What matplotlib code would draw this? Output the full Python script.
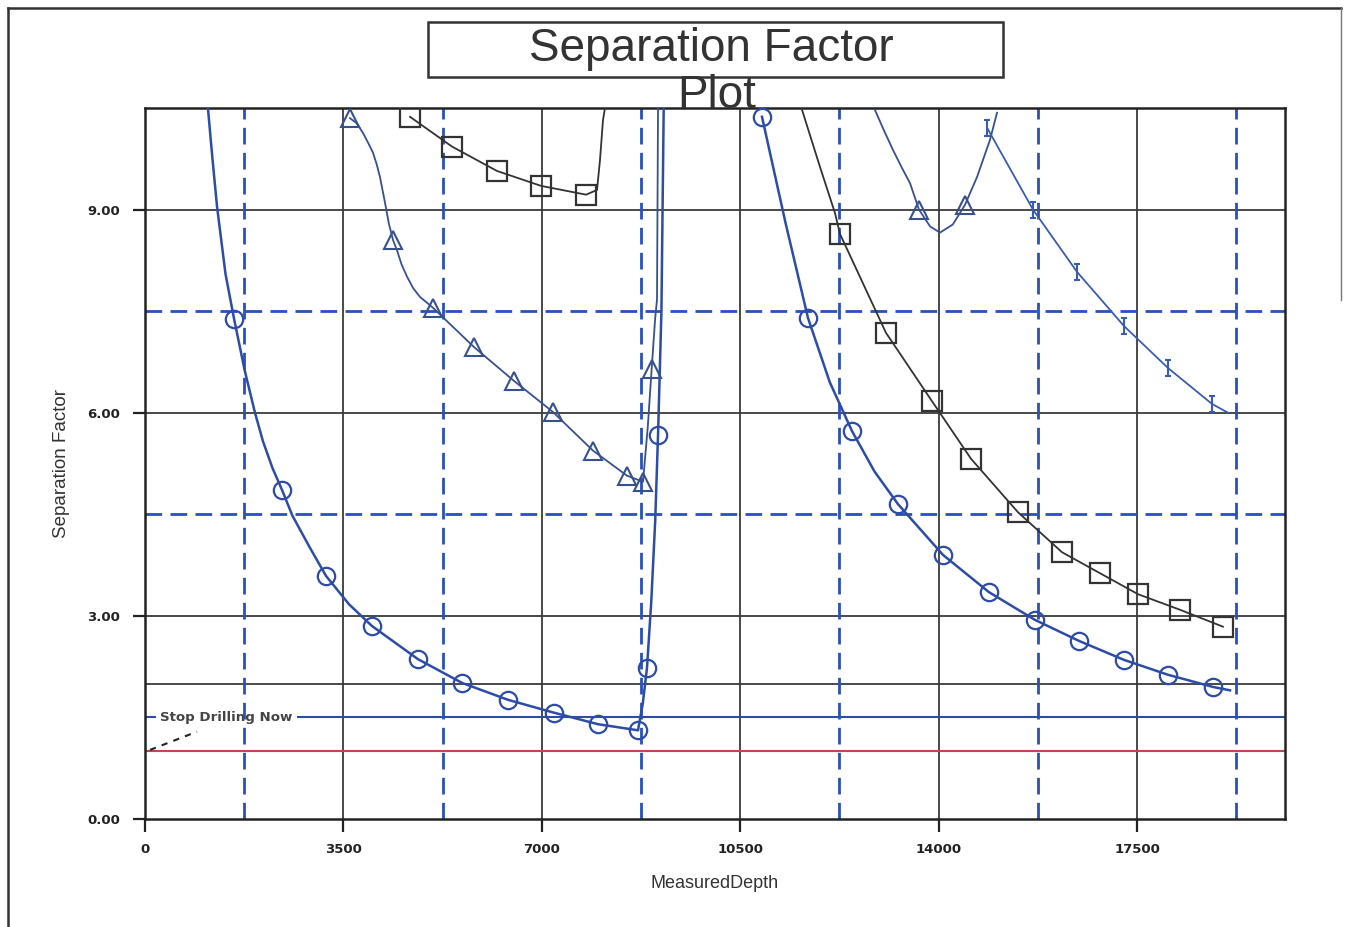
import matplotlib
matplotlib.use("Agg")
import matplotlib.pyplot as plt
import numpy as np
from matplotlib.path import Path
from matplotlib.lines import Line2D
from matplotlib.patches import Rectangle

plt.rcParams['font.family'] = ['Liberation Sans', 'DejaVu Sans']

# ---------------- data ----------------
x_ticks = [0, 3500, 7000, 10500, 14000, 17500]
y_ticks = [0.0, 3.0, 6.0, 9.0]
y_tick_labels = ["0.00", "3.00", "6.00", "9.00"]
dash_x = [1750, 5250, 8750, 12250, 15750, 19250]
dash_y = [4.5, 7.5]
solid_extra_y = [2.0]
stop_level = 1.5
red_level = 1.0

# circles (blue) - first branch
circ1_x = [1110, 1190, 1270, 1420, 1570, 1760, 1940, 2080, 2250, 2417, 2600, 2900, 3193, 3600, 4004, 4816,
           5592, 6403, 7215, 7991, 8697, 8780, 8855, 8930, 9000, 9050, 9110, 9150]
circ1_y = [10.5, 9.75, 9.05, 8.05, 7.39, 6.62, 6.0, 5.58, 5.18, 4.86, 4.48, 4.02, 3.59, 3.17, 2.85, 2.36,
           2.01, 1.76, 1.57, 1.40, 1.31, 1.70, 2.23, 3.20, 4.40, 5.67, 7.50, 10.5]
circ1_mx = [1570, 2417, 3193, 4004, 4816, 5592, 6403, 7215, 7991, 8697, 8855, 9050]
circ1_my = [7.39, 4.86, 3.59, 2.85, 2.36, 2.01, 1.76, 1.57, 1.40, 1.31, 2.23, 5.67]
# circles - second branch
circ2_x = [10884, 11300, 11695, 12080, 12471, 12870, 13283, 14077, 14888, 15700, 16476, 17270, 18046, 18840,
           19140]
circ2_y = [10.37, 8.80, 7.40, 6.45, 5.73, 5.13, 4.65, 3.90, 3.35, 2.94, 2.63, 2.35, 2.13, 1.95, 1.90]
circ2_mx = [10884, 11695, 12471, 13283, 14077, 14888, 15700, 16476, 17270, 18046, 18840]
circ2_my = [10.37, 7.40, 5.73, 4.65, 3.90, 3.35, 2.94, 2.63, 2.35, 2.13, 1.95]

# triangles (blue) - first branch
tri1_x = [3616, 3740, 3846, 3940, 4022, 4090, 4145, 4234, 4300, 4375, 4445, 4530, 4622, 4730, 4851, 5080,
          5803, 6509, 7197, 7903, 8503, 8785, 8870, 8938, 9000, 9032, 9050]
tri1_y = [10.35, 10.27, 10.13, 9.98, 9.84, 9.66, 9.48, 9.10, 8.80, 8.55, 8.40, 8.18, 8.01, 7.84, 7.71, 7.55,
          6.97, 6.47, 6.01, 5.44, 5.07, 4.98, 5.80, 6.65, 7.40, 7.67, 10.5]
tri1_mx = [3616, 4375, 5080, 5803, 6509, 7197, 7903, 8503, 8785, 8938]
tri1_my = [10.35, 8.55, 7.55, 6.97, 6.47, 6.01, 5.44, 5.07, 4.98, 6.65]
# triangles - second branch (bowl)
tri2_x = [12877, 13040, 13195, 13350, 13495, 13653, 13850, 14025, 14250, 14465, 14677, 14906, 15030]
tri2_y = [10.47, 10.16, 9.88, 9.62, 9.39, 9.00, 8.75, 8.66, 8.78, 9.07, 9.48, 10.03, 10.43]
tri2_mx = [13653, 14465]
tri2_my = [9.00, 9.07]

# squares (black) - first branch
sq1_x = [4675, 5416, 6210, 6986, 7780, 7974, 8026, 8079, 8114]
sq1_y = [10.37, 9.93, 9.57, 9.35, 9.22, 9.29, 9.73, 10.32, 10.5]
sq1_mx = [4675, 5416, 6210, 6986, 7780]
sq1_my = [10.37, 9.93, 9.57, 9.35, 9.22]
# squares - second branch
sq2_x = [11580, 11907, 12171, 12260, 13071, 13883, 14571, 15400, 16176, 16846, 17517, 18258, 19016]
sq2_y = [10.5, 9.63, 8.95, 8.64, 7.18, 6.17, 5.32, 4.53, 3.94, 3.63, 3.32, 3.09, 2.84]
sq2_mx = [12260, 13071, 13883, 14571, 15400, 16176, 16846, 17517, 18258, 19016]
sq2_my = [8.64, 7.18, 6.17, 5.32, 4.53, 3.94, 3.63, 3.32, 3.09, 2.84]

# I-beam markers (blue)
ib_x = [14853, 15664, 16441, 17270, 18046, 18822, 19104]
ib_y = [10.21, 9.00, 8.08, 7.28, 6.66, 6.13, 6.00]
ib_mx = ib_x[:-1]
ib_my = ib_y[:-1]

annot_x = [88, 917]
annot_y = [1.02, 1.29]

# ---------------- figure ----------------
W, H = 1346, 927
fig = plt.figure(figsize=(W / 100, H / 100), dpi=100)
fig.patch.set_facecolor('white')

ax = fig.add_axes([145 / W, 1 - 819 / H, (1285 - 145) / W, (819 - 108) / H])
ax.set_xlim(0, 20110)
ax.set_ylim(0, 10.5)

BLUE = '#2c4ca8'
DBLUE = '#2a4fbf'
GRID = '#3a3a3a'
BLACK = '#333333'
RED = '#c24455'

# solid grid
for xv in x_ticks[1:]:
    ax.axvline(xv, color=GRID, lw=1.3, zorder=1)
for yv in y_ticks[1:] + solid_extra_y:
    ax.axhline(yv, color=GRID, lw=1.3, zorder=1)
# dashed blue grid
for xv in dash_x:
    ax.axvline(xv, color=DBLUE, lw=2.0, ls=(0, (6, 3)), zorder=2)
for yv in dash_y:
    ax.axhline(yv, color=DBLUE, lw=2.0, ls=(0, (6, 3)), zorder=2)

# reference lines
ax.axhline(stop_level, color=BLUE, lw=1.5, zorder=1.2)
ax.axhline(red_level, color=RED, lw=1.5, zorder=1.2)
ax.text(270, stop_level, "Stop Drilling Now", fontsize=9.6, fontweight='bold', color='#444444',
        family='DejaVu Sans', ha='left', va='center', zorder=1.5,
        bbox=dict(boxstyle='square,pad=0.3', fc='white', ec='none'))
ax.plot(annot_x, annot_y, color='#222222', lw=1.5, ls=(0, (3, 3)), zorder=3)

# I-beam marker path
ib_path = Path([(-0.4, 1), (0.4, 1), (0, 1), (0, -1), (-0.4, -1), (0.4, -1)],
               [Path.MOVETO, Path.LINETO, Path.MOVETO, Path.LINETO, Path.MOVETO, Path.LINETO])

# curves
mk = dict(ls='none', fillstyle='none', zorder=5, clip_on=True)
ax.plot(circ1_x, circ1_y, color=BLUE, lw=1.8, zorder=4)
ax.plot(circ1_mx, circ1_my, marker='o', ms=12.5, mew=1.6, color=BLUE, **mk)
ax.plot(circ2_x, circ2_y, color=BLUE, lw=1.8, zorder=4)
ax.plot(circ2_mx, circ2_my, marker='o', ms=12.5, mew=1.6, color=BLUE, **mk)

ax.plot(tri1_x, tri1_y, color='#37508f', lw=1.3, zorder=4)
ax.plot(tri1_mx, tri1_my, marker='^', ms=13, mew=1.5, color='#37508f', **mk)
ax.plot(tri2_x, tri2_y, color='#37508f', lw=1.3, zorder=4)
ax.plot(tri2_mx, tri2_my, marker='^', ms=13, mew=1.5, color='#37508f', **mk)

ax.plot(sq1_x, sq1_y, color=BLACK, lw=1.3, zorder=4)
ax.plot(sq1_mx, sq1_my, marker='s', ms=14, mew=1.6, color=BLACK, **mk)
ax.plot(sq2_x, sq2_y, color=BLACK, lw=1.3, zorder=4)
ax.plot(sq2_mx, sq2_my, marker='s', ms=14, mew=1.6, color=BLACK, **mk)

ax.plot(ib_x, ib_y, color='#3a5cb0', lw=1.3, zorder=4)
ax.plot(ib_mx, ib_my, marker=ib_path, ms=12, mew=1.5, color='#3a5cb0', **mk)

# axes styling
for s in ax.spines.values():
    s.set_color('#222222')
    s.set_linewidth(1.8)
ax.set_xticks(x_ticks)
ax.set_xticklabels([str(v) for v in x_ticks])
ax.set_yticks(y_ticks)
ax.set_yticklabels(y_tick_labels)
ax.tick_params(axis='both', direction='out', length=9, width=1.6, color='#222222',
               labelsize=9.5)
ax.tick_params(axis='x', pad=8)
ax.tick_params(axis='y', pad=9)
for lab in ax.get_xticklabels() + ax.get_yticklabels():
    lab.set_fontweight('bold')
    lab.set_family('DejaVu Sans')
    lab.set_color('#222222')
ax.set_xlabel("MeasuredDepth", fontsize=13, color='#333333', labelpad=14)
ax.set_ylabel("Separation Factor", fontsize=13.5, color='#333333', labelpad=12)

# title box and text
fig.patches.append(Rectangle((428 / W, 1 - 77 / H), (1003 - 428) / W, (77 - 22) / H,
                             transform=fig.transFigure, fill=False, ec='#333333', lw=1.8))
fig.text(711 / W, 1 - 49 / H, "Separation Factor", fontsize=33, ha='center', va='center',
         color='#333333')
fig.text(717 / W, 1 - 96 / H, "Plot", fontsize=33, ha='center', va='center', color='#333333')

# outer border
fig.add_artist(Line2D([8 / W, 8 / W], [0, 1 - 8 / H], transform=fig.transFigure, color='#333333', lw=1.8))
fig.add_artist(Line2D([8 / W, 1341 / W], [1 - 8 / H, 1 - 8 / H], transform=fig.transFigure, color='#333333', lw=1.8))
fig.add_artist(Line2D([1341 / W, 1341 / W], [1 - 8 / H, 1 - 300 / H], transform=fig.transFigure, color='#777777', lw=1.0))

fig.savefig("out.png", dpi=100)
